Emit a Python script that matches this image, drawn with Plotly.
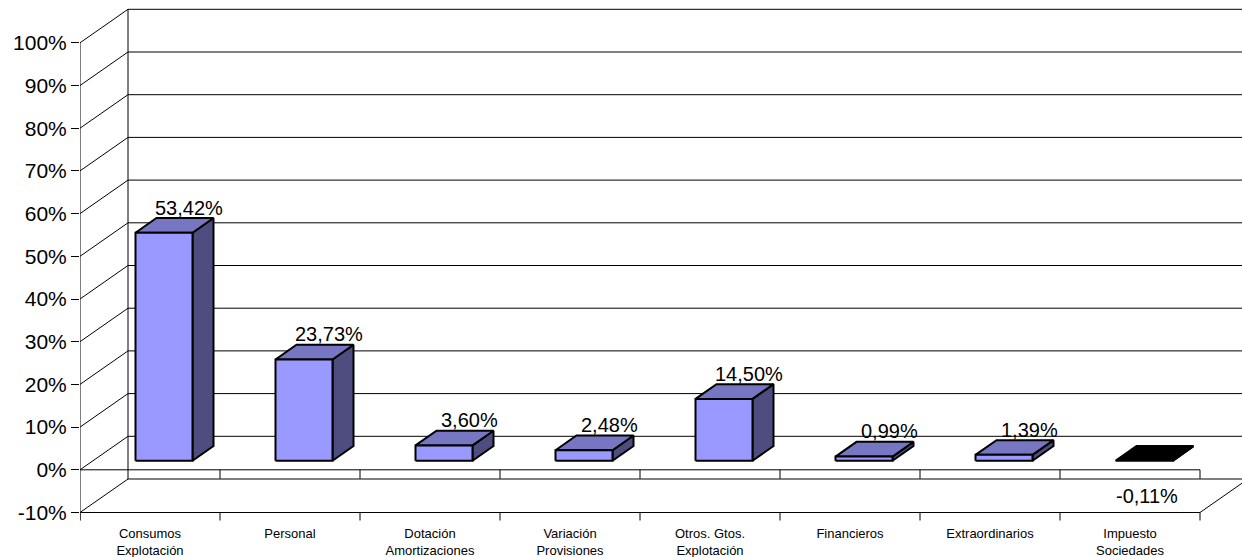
import plotly.graph_objects as go

# ---------------- data ----------------
categories = ["Consumos<br>Explotación", "Personal", "Dotación<br>Amortizaciones",
              "Variación<br>Provisiones", "Otros. Gtos.<br>Explotación", "Financieros",
              "Extraordinarios", "Impuesto<br>Sociedades"]
values = [53.42, 23.73, 3.60, 2.48, 14.50, 0.99, 1.39, -0.11]
value_labels = ["53,42%", "23,73%", "3,60%", "2,48%", "14,50%", "0,99%", "1,39%", "-0,11%"]
y_ticks = [-10, 0, 10, 20, 30, 40, 50, 60, 70, 80, 90, 100]
y_tick_labels = [f"{t}%" for t in y_ticks]

# ---------------- geometry (pseudo 3D, in axis units) ----------------
W, H = 1242, 557
ML, MB = 80, 33
PX_CAT = 140.0          # pixels per category
PX_PCT = 4.27           # pixels per percent
ZERO_PX = 469.8         # pixel row of front 0%
plot_h = H - MB
n = len(categories)

def px_x(p):
    return p / PX_CAT

def px_y(p):
    return p / PX_PCT

DX, DY = px_x(48), px_y(33.5)          # full depth of the box
FX, FY = px_x(14), px_y(9)             # depth of the bar front face
BX, BY = px_x(21), px_y(14.7)          # depth of the bar itself
BW = px_x(57)                          # bar width

x_range = [0, (W - ML) / PX_CAT]
y_range = [(ZERO_PX - plot_h) / PX_PCT, ZERO_PX / PX_PCT]

FRONT = "#9999FF"
TOP = "#7676C2"
SIDE = "#4D4D80"

fig = go.Figure()

# ---------------- walls, floor, grid ----------------
lx, ly = [], []
def seg(x0, y0, x1, y1):
    lx.extend([x0, x1, None])
    ly.extend([y0, y1, None])

xr_back = n + DX
for t in y_ticks:
    seg(DX, t + DY, xr_back, t + DY)      # back-wall gridline
    seg(0, t, DX, t + DY)                 # side-wall diagonal
seg(DX, y_ticks[0] + DY, DX, y_ticks[-1] + DY)   # back-left edge
seg(0, y_ticks[0] - px_y(8), 0, y_ticks[-1])     # front value axis
seg(0, y_ticks[0], n, y_ticks[0])                # floor front edge
seg(n, y_ticks[0], n + DX, y_ticks[0] + DY)      # floor right edge
seg(0, 0, n, 0)                                  # category axis at 0
for i in range(1, n + 1):
    seg(i, 0, i, -px_y(9))
for i in range(0, n + 1):
    seg(i, y_ticks[0], i, y_ticks[0] - px_y(8))

fig.add_trace(go.Scatter(x=lx, y=ly, mode="lines",
                         line=dict(color="black", width=1),
                         hoverinfo="skip", showlegend=False))

# ---------------- bars ----------------
def poly(xs, ys, color):
    fig.add_trace(go.Scatter(x=xs + [xs[0]], y=ys + [ys[0]], mode="lines",
                             fill="toself", fillcolor=color,
                             line=dict(color="black", width=2),
                             hoverinfo="skip", showlegend=False))

for i, v in enumerate(values):
    cx = i + 0.5 + FX
    xl, xr = cx - BW / 2, cx + BW / 2
    b = min(v, 0) + FY
    t = max(v, 0) + FY
    neg = v < 0
    fc = "black" if neg else FRONT
    tc = "black" if neg else TOP
    sc = "black" if neg else SIDE
    poly([xr, xr + BX, xr + BX, xr], [b, b + BY, t + BY, t], sc)
    poly([xl, xr, xr + BX, xl + BX], [t, t, t + BY, t + BY], tc)
    if not neg:
        poly([xl, xr, xr, xl], [b, b, t, t], fc)

# ---------------- value labels ----------------
for i, v in enumerate(values):
    cx = i + 0.5 + FX
    if v >= 0:
        fig.add_annotation(x=cx + BX + px_x(4), y=v + FY + BY, text=value_labels[i],
                           showarrow=False, yanchor="middle", yshift=10.5,
                           font=dict(size=20, color="black"))
    else:
        fig.add_annotation(x=cx + px_x(3), y=v + FY, text=value_labels[i],
                           showarrow=False, yanchor="middle", yshift=-35,
                           font=dict(size=20, color="black"))

fig.update_layout(
    width=W, height=H,
    margin=dict(l=ML, r=0, t=0, b=MB, pad=0, autoexpand=False),
    paper_bgcolor="white", plot_bgcolor="white",
    font=dict(family="Liberation Sans, Arial, sans-serif", color="black"),
    showlegend=False,
    xaxis=dict(range=x_range, showgrid=False, zeroline=False, showline=False,
               tickmode="array", tickvals=[i + 0.5 for i in range(n)],
               ticktext=categories, ticks="", tickfont=dict(size=13),
               ticklabelstandoff=0, automargin=False, fixedrange=True),
    yaxis=dict(range=y_range, showgrid=False, zeroline=False, showline=False,
               tickmode="array", tickvals=y_ticks, ticktext=y_tick_labels,
               ticks="outside", ticklen=8, tickcolor="black", tickwidth=1,
               tickfont=dict(size=21), automargin=False, fixedrange=True),
)

fig.write_html("out.html")
